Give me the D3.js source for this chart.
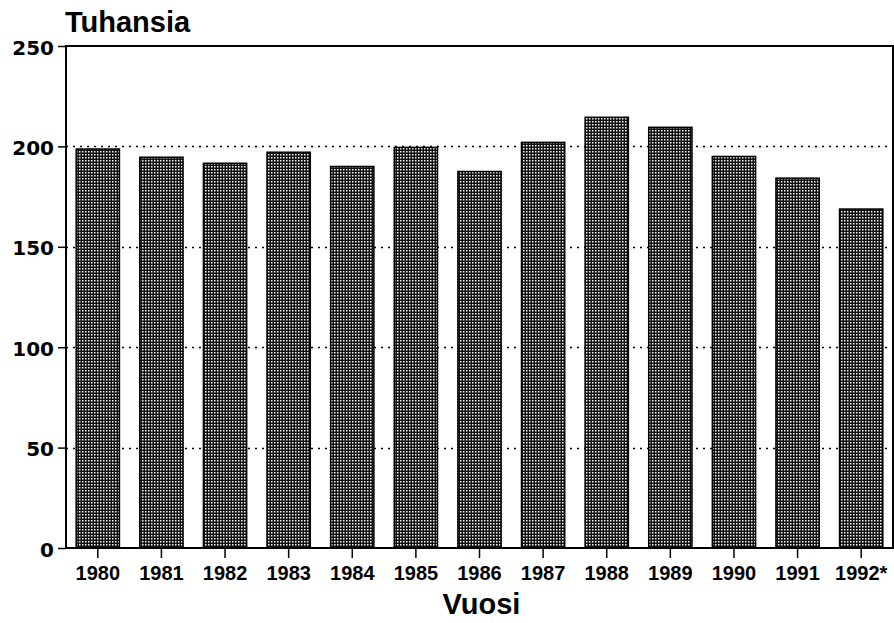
<!DOCTYPE html>
<html>
<head>
<meta charset="utf-8">
<script src="https://cdn.jsdelivr.net/npm/d3@7"></script>
<style>
  body { margin: 0; background: #fff; }
  svg text { font-family: "Liberation Sans", Arial, sans-serif; font-weight: bold; fill: #000; }
</style>
</head>
<body>
<svg id="chart" width="894" height="623"></svg>
<script>
var years = ["1980", "1981", "1982", "1983", "1984", "1985", "1986",
             "1987", "1988", "1989", "1990", "1991", "1992*"];
var values = [198.7, 194.6, 191.6, 197.1, 190.0, 199.5, 187.5,
              202.0, 214.5, 209.5, 195.0, 184.2, 168.8];
var yTicks = [0, 50, 100, 150, 200, 250];
var gridTicks = [50, 100, 150, 200];

var svg = d3.select("#chart"),
    plotLeft = 66, plotRight = 893, plotTop = 46, plotBottom = 548;

var x = d3.scaleBand()
    .domain(years)
    .range([plotLeft, plotRight])
    .paddingInner(0.32)
    .paddingOuter(0.16);

var y = d3.scaleLinear()
    .domain([0, 250])
    .range([plotBottom, plotTop]);

// halftone fill like the printed original
var pat = svg.append("defs").append("pattern")
    .attr("id", "dots")
    .attr("patternUnits", "userSpaceOnUse")
    .attr("width", 3)
    .attr("height", 3);
pat.append("rect").attr("width", 3).attr("height", 3).attr("fill", "#111");
pat.append("rect").attr("x", 1).attr("y", 1).attr("width", 1.5).attr("height", 1.5).attr("fill", "#f4f4f4");

// dotted grid
svg.append("g")
  .selectAll("line")
  .data(gridTicks)
  .join("line")
    .attr("x1", plotLeft)
    .attr("x2", plotRight)
    .attr("y1", function (d) { return Math.round(y(d)) + 0.5; })
    .attr("y2", function (d) { return Math.round(y(d)) + 0.5; })
    .attr("stroke", "#000")
    .attr("stroke-width", 1.5)
    .attr("stroke-dasharray", "2,5");

// bars
svg.append("g")
  .selectAll("rect")
  .data(values)
  .join("rect")
    .attr("x", function (d, i) { return x(years[i]); })
    .attr("y", function (d) { return y(d); })
    .attr("width", x.bandwidth())
    .attr("height", function (d) { return y(0) - y(d); })
    .attr("fill", "url(#dots)")
    .attr("stroke", "#000")
    .attr("stroke-width", 1.5);

// frame
svg.append("rect")
    .attr("x", plotLeft)
    .attr("y", plotTop)
    .attr("width", plotRight - plotLeft)
    .attr("height", plotBottom - plotTop)
    .attr("fill", "none")
    .attr("stroke", "#000")
    .attr("stroke-width", 2);

// y axis
var yAxis = svg.append("g")
    .attr("transform", "translate(" + plotLeft + ",0)")
    .call(d3.axisLeft(y).tickValues(yTicks).tickSize(8).tickPadding(4));
yAxis.select(".domain").remove();
yAxis.selectAll("line").attr("stroke", "#000").attr("stroke-width", 1.5);
yAxis.selectAll("text")
    .style("font-family", "'DejaVu Sans', sans-serif")
    .style("font-weight", "bold")
    .style("font-size", "20px")
    .attr("dy", "0.4em");

// x axis
var xAxis = svg.append("g")
    .attr("transform", "translate(0," + plotBottom + ")")
    .call(d3.axisBottom(x).tickSize(10).tickPadding(8));
xAxis.select(".domain").remove();
xAxis.selectAll("line").attr("stroke", "#000").attr("stroke-width", 1.5);
xAxis.selectAll("text")
    .style("font-size", "20px")
    .style("font-weight", "bold");

// titles
svg.append("text")
    .attr("x", 65)
    .attr("y", 32)
    .style("font-size", "29px")
    .text("Tuhansia");

svg.append("text")
    .attr("x", (plotLeft + plotRight) / 2 + 2)
    .attr("y", 614)
    .attr("text-anchor", "middle")
    .style("font-size", "29px")
    .text("Vuosi");
</script>
</body>
</html>
